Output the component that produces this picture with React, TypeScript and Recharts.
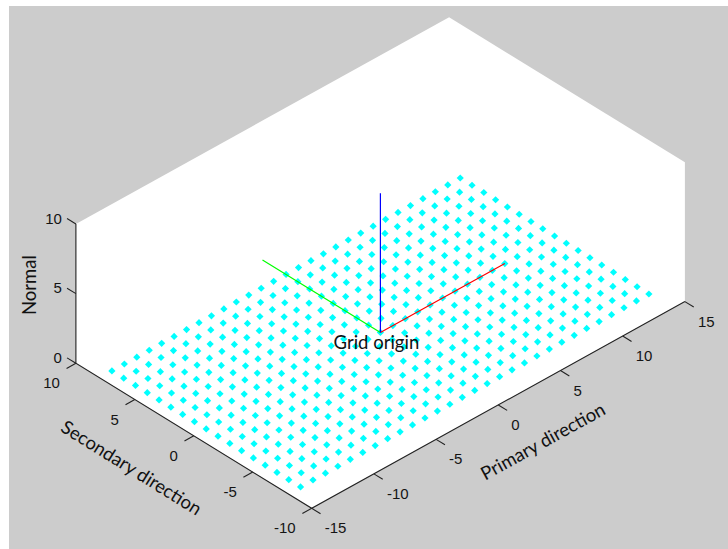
import { ScatterChart, Scatter, XAxis, YAxis } from 'recharts'

// Axis limits of the 3-D box
const primaryLimits = [-15, 15]
const secondaryLimits = [-10, 10]
const normalLimits = [0, 10]

const primaryTicks = [-15, -10, -5, 0, 5, 10, 15]
const secondaryTicks = [-10, -5, 0, 5, 10]
const normalTicks = [0, 5, 10]

// Grid node coordinates
const gridPrimary = [-14, -13, -12, -11, -10, -9, -8, -7, -6, -5, -4, -3, -2, -1, 0, 1, 2, 3, 4, 5, 6, 7, 8, 9, 10, 11, 12, 13, 14]
const gridSecondary = [-8, -7, -6, -5, -4, -3, -2, -1, 0, 1, 2, 3, 4, 5, 6, 7, 8]

// Length of the primary / secondary / normal frame vectors drawn at the origin
const frameLength = 10

const W = 728
const H = 549

// screen offset per data unit for each direction (x right, y up)
const view = {
  primary: [12.44, 6.89],
  secondary: [-11.79, 7.25],
  normal: [0, 13.93],
}
const originPx = [380.4, 332.45]

type P3 = [number, number, number]

function project([p, s, n]: P3, extra: Record<string, unknown> = {}) {
  return {
    sx: p * view.primary[0] + s * view.secondary[0] + n * view.normal[0],
    sy: p * view.primary[1] + s * view.secondary[1] + n * view.normal[1],
    ...extra,
  }
}

const [pMin, pMax] = primaryLimits
const [sMin, sMax] = secondaryLimits
const [nMin, nMax] = normalLimits
const tickLen = 0.75

const wall = ([
  [pMin, sMax, nMax],
  [pMax, sMax, nMax],
  [pMax, sMin, nMax],
  [pMax, sMin, nMin],
  [pMin, sMin, nMin],
  [pMin, sMax, nMin],
] as P3[]).map((c) => project(c))

const axisPath = ([
  [pMin, sMax, nMax],
  [pMin, sMax, nMin],
  [pMin, sMin, nMin],
  [pMax, sMin, nMin],
] as P3[]).map((c) => project(c))

// start/end pairs of every tick mark
const tickSegments = [
  ...primaryTicks.flatMap((v) => [project([v, sMin, nMin]), project([v, sMin - tickLen, nMin])]),
  ...secondaryTicks.flatMap((v) => [project([pMin, v, nMin]), project([pMin - tickLen, v, nMin])]),
  ...normalTicks.flatMap((v) => [project([pMin, sMax, v]), project([pMin, sMax + tickLen, v])]),
]

const gridNodes = gridPrimary.flatMap((p) => gridSecondary.map((s) => project([p, s, 0])))

const frameAxes = [
  { color: '#ff0000', tip: [frameLength, 0, 0] as P3 },
  { color: '#00ff00', tip: [0, frameLength, 0] as P3 },
  { color: '#0000ff', tip: [0, 0, frameLength] as P3 },
]

const primaryLabels = primaryTicks.map((v) => project([v, sMin, nMin], { text: String(v) }))
const secondaryLabels = secondaryTicks.map((v) => project([pMin, v, nMin], { text: String(v) }))
const normalLabels = normalTicks.map((v) => project([pMin, sMax, v], { text: String(v) }))

const titles = [
  project([-0.6, -14.4, 0], { text: 'Primary direction', angle: -29 }),
  project([-19.8, 0.2, 0], { text: 'Secondary direction', angle: 32 }),
  project([-16.4, 12.5, 5], { text: 'Normal', angle: -90 }),
]

const tickFont = '"Liberation Sans", Arial, sans-serif'
const titleFont = 'Lato, "Open Sans", sans-serif'

const none = () => <g />

const polyline = (pts: { x: number; y: number }[]) => pts.map((p) => `${p.x},${p.y}`).join(' ')

function labelShape(anchor: 'start' | 'end', dx: number, dy: number) {
  return (props: any) => (
    <text
      x={props.cx + dx}
      y={props.cy + dy}
      textAnchor={anchor}
      fontFamily={tickFont}
      fontSize={15}
      fill="#141414"
    >
      {props.payload.text}
    </text>
  )
}

function titleShape(props: any) {
  const { cx, cy, payload } = props
  return (
    <text
      x={cx}
      y={cy}
      transform={`rotate(${payload.angle} ${cx} ${cy})`}
      textAnchor="middle"
      dominantBaseline="central"
      fontFamily={titleFont}
      fontSize={18.5}
      fill="#111"
    >
      {payload.text}
    </text>
  )
}

function diamond(props: any) {
  const { cx, cy } = props
  const r = 3.6
  return <polygon points={`${cx},${cy - r} ${cx + r},${cy} ${cx},${cy + r} ${cx - r},${cy}`} fill="#00ffff" />
}

export default function App() {
  return (
    <div style={{ position: 'absolute', left: 0, top: 0, width: W, height: H, background: '#fff' }}>
      <div style={{ position: 'absolute', left: 9, top: 6, right: 0, bottom: 0, background: '#cccccc' }} />
      <div style={{ position: 'absolute', left: 0, top: 0 }}>
        <ScatterChart width={W} height={H} margin={{ top: 0, right: 0, bottom: 0, left: 0 }}>
          <XAxis type="number" dataKey="sx" domain={[-originPx[0], W - originPx[0]]} hide allowDataOverflow />
          <YAxis type="number" dataKey="sy" domain={[originPx[1] - H, originPx[1]]} hide allowDataOverflow />

          <Scatter
            data={wall}
            shape={none}
            isAnimationActive={false}
            line={(lp: any) => <polygon points={polyline(lp.points)} fill="#ffffff" stroke="none" />}
          />

          <Scatter data={gridNodes} shape={diamond} isAnimationActive={false} />

          {frameAxes.map((a) => (
            <Scatter
              key={a.color}
              data={[project([0, 0, 0]), project(a.tip)]}
              shape={none}
              isAnimationActive={false}
              line={{ stroke: a.color, strokeWidth: 1.2 }}
            />
          ))}

          <Scatter
            data={[project([0, 0, 0], { text: 'Grid origin' })]}
            isAnimationActive={false}
            shape={(props: any) => (
              <text x={props.cx - 4} y={props.cy + 17} textAnchor="middle" fontFamily={titleFont} fontSize={18.5} fill="#111">
                {props.payload.text}
              </text>
            )}
          />

          <Scatter
            data={axisPath}
            shape={none}
            isAnimationActive={false}
            line={(lp: any) => <polyline points={polyline(lp.points)} fill="none" stroke="#222" strokeWidth={1.1} />}
          />
          <Scatter
            data={tickSegments}
            shape={none}
            isAnimationActive={false}
            line={(lp: any) => (
              <g stroke="#222" strokeWidth={1.1}>
                {lp.points
                  .filter((_: unknown, i: number) => i % 2 === 0)
                  .map((p: { x: number; y: number }, i: number) => {
                    const q = lp.points[i * 2 + 1]
                    return <line key={i} x1={p.x} y1={p.y} x2={q.x} y2={q.y} />
                  })}
              </g>
            )}
          />

          <Scatter data={primaryLabels} shape={labelShape('start', 13, 25)} isAnimationActive={false} />
          <Scatter data={secondaryLabels} shape={labelShape('end', -16, 25)} isAnimationActive={false} />
          <Scatter data={normalLabels} shape={labelShape('end', -14, -0.5)} isAnimationActive={false} />
          <Scatter data={titles} shape={titleShape} isAnimationActive={false} />
        </ScatterChart>
      </div>
    </div>
  )
}
